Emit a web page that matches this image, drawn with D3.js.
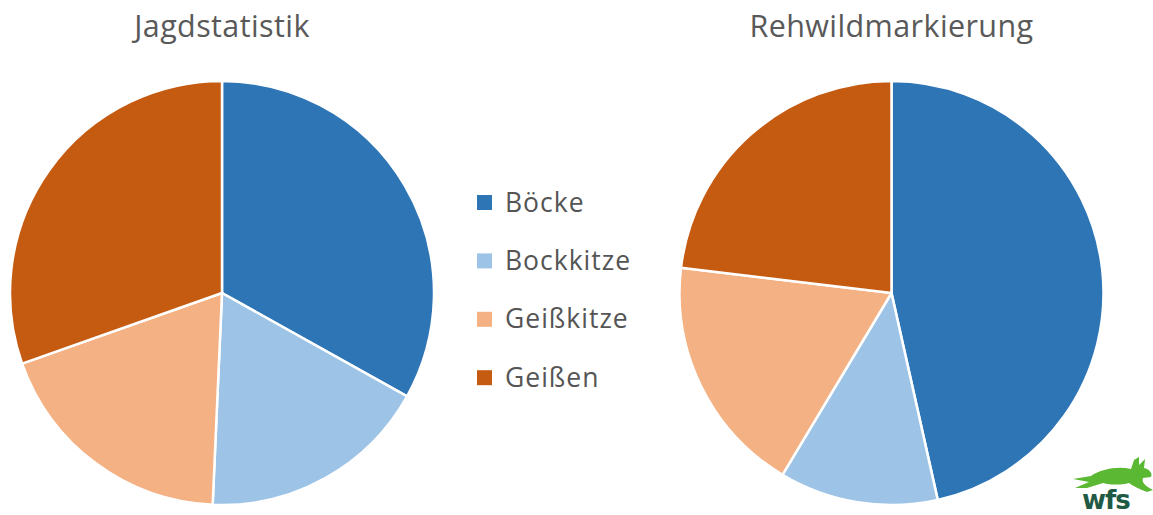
<!DOCTYPE html>
<meta http-equiv="Content-Type" content="text/html; charset=utf-8">
<style>body{margin:0;background:#fff;} svg{display:block;}</style>
<body>
<script src="https://d3js.org/d3.v7.min.js" charset="utf-8"></script>
<script>
var W = 1153, H = 515;
var svg = d3.select("body").append("svg").attr("width", W).attr("height", H);

// data (shares in %)
var categories = ["Böcke", "Bockkitze", "Geißkitze", "Geißen"];
var jagdstatistik = [33.1, 17.6, 18.9, 30.4];
var rehwildmarkierung = [46.5, 12.1, 18.3, 23.1];
var titles = ["Jagdstatistik", "Rehwildmarkierung"];
var colors = ["#2e75b6", "#9dc3e6", "#f4b183", "#c55a11"];

var color = d3.scaleOrdinal().domain(categories).range(colors);
var pie = d3.pie().sort(null).value(function(d){ return d.v; });
var arc = d3.arc().innerRadius(0).outerRadius(212);

var charts = [
	{title: titles[0], values: jagdstatistik, cx: 222, cy: 293},
	{title: titles[1], values: rehwildmarkierung, cx: 891.5, cy: 293}
];

charts.forEach(function(c){
	var g = svg.append("g").attr("transform", "translate(" + c.cx + "," + c.cy + ")");
	var rows = categories.map(function(k, i){ return {k: k, v: c.values[i]}; });
	g.selectAll("path").data(pie(rows)).enter().append("path")
		.attr("d", arc)
		.attr("fill", function(d){ return color(d.data.k); })
		.attr("stroke", "#fff")
		.attr("stroke-width", 2.5)
		.attr("stroke-linejoin", "round");
	svg.append("text")
		.attr("x", c.cx).attr("y", 37)
		.attr("text-anchor", "middle")
		.attr("font-family", "'Open Sans', sans-serif")
		.attr("font-size", 30.5)
		.attr("letter-spacing", 0.4)
		.attr("fill", "#595959")
		.text(c.title);
});

// legend
var lg = svg.append("g").attr("transform", "translate(477,203)");
var item = lg.selectAll("g").data(categories).enter().append("g")
	.attr("transform", function(d, i){ return "translate(0," + (i * 58.4) + ")"; });
item.append("rect").attr("x", 0).attr("y", -8).attr("width", 15).attr("height", 15)
	.attr("fill", function(d){ return color(d); });
item.append("text").attr("x", 28).attr("y", 8.5)
	.attr("font-family", "'Open Sans', sans-serif")
	.attr("font-size", 26.5)
	.attr("letter-spacing", 1)
	.attr("fill", "#555")
	.text(function(d){ return d; });

// wfs logo
var logo = svg.append("g").attr("transform", "translate(1073,457)");
logo.append("path")
	.attr("d", "M0,22 L18,19 C28,12 45,9 58,12 L61,3 L66,0 L66,8 L72,2 L71,11 C76,12 80,16 78,20 L70,21 C68,26 74,30 80,33 L74,35 C66,32 60,29 56,26 C48,28 38,28 30,26 L14,31 L2,31 L16,25 Z")
	.attr("fill", "#5bb832");
logo.append("text").attr("x", 9).attr("y", 52)
	.attr("font-family", "'DejaVu Sans', sans-serif")
	.attr("font-weight", "bold")
	.attr("font-size", 26)
	.attr("letter-spacing", -1)
	.attr("fill", "#1e5a44")
	.text("wfs");
</script>
</body>
